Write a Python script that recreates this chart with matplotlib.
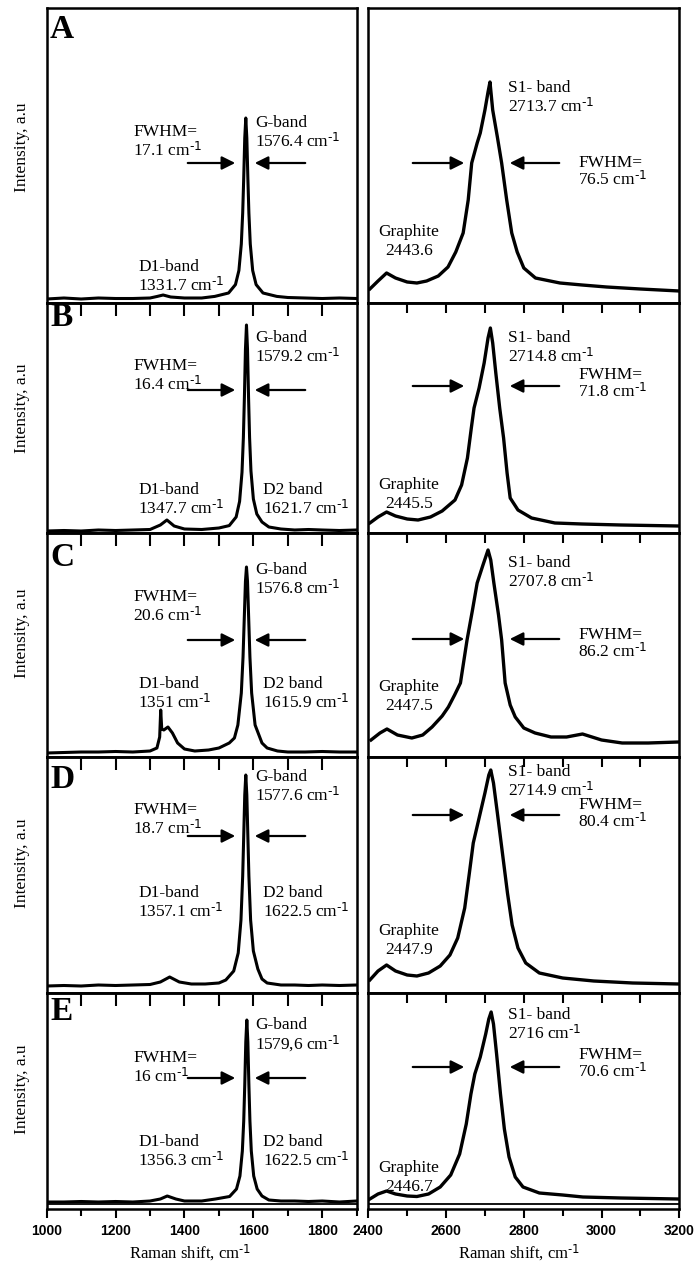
import matplotlib.pyplot as plt

plt.rcParams['font.family'] = ['Liberation Serif', 'DejaVu Serif']
plt.rcParams['mathtext.default'] = 'regular'

W, H = 696, 1262

# Raman shift (cm-1) / intensity (a.u.), G region (left)
a_g_x = [1000, 1050, 1100, 1150, 1200, 1250, 1300, 1320, 1338, 1360, 1400, 1450, 1488, 1528, 1548, 1558, 1565, 1569,
         1572, 1575, 1578, 1581, 1584, 1587, 1591, 1598, 1608, 1628, 1668, 1700, 1750, 1800, 1850, 1900]
a_g_y = [4, 5, 4, 5, 4.5, 4.5, 5, 6.5, 8, 6, 5, 5, 6.6, 10, 18.4, 32.5, 59, 90,
         125, 165, 185, 165, 125, 90, 59, 32.5, 18.4, 10, 6.6, 5.5, 5, 4.5, 5, 4.5]

b_g_x = [1000, 1050, 1100, 1150, 1200, 1250, 1300, 1330, 1349, 1370, 1400, 1450, 1500, 1530, 1550, 1560, 1567, 1571,
         1574, 1577, 1580, 1583, 1586, 1589, 1593, 1600, 1610, 1625, 1645, 1680, 1720, 1760, 1800, 1850, 1900]
b_g_y = [2, 2.5, 2, 3, 2.5, 3, 3.5, 8, 13, 7, 4, 3.5, 5, 7.4, 16, 31.6, 60.7, 95.5,
         136, 183.7, 208, 183.7, 136, 95.5, 62, 34, 19, 11, 6, 4, 3, 3.5, 3, 2.5, 3]

c_g_x = [1000, 1050, 1100, 1150, 1200, 1250, 1300, 1320, 1328, 1331, 1334, 1340, 1352, 1365, 1380, 1400, 1430, 1470,
         1500, 1530, 1545, 1555, 1565, 1570, 1574, 1577, 1580, 1583, 1586, 1590, 1595, 1605, 1615, 1625, 1640, 1670,
         1700, 1750, 1800, 1850, 1900]
c_g_y = [4, 4.5, 5, 5, 5.5, 5, 6, 9, 20, 47, 28, 27, 30, 24, 14, 8, 6, 7,
         9, 14, 19, 32, 64, 100, 143, 175.5, 190, 175.5, 143, 100, 64, 32, 23, 14, 9, 6,
         5, 5, 5.5, 5, 5]

d_g_x = [1000, 1050, 1100, 1150, 1200, 1250, 1300, 1330, 1357, 1385, 1420, 1460, 1500, 1520, 1543, 1556, 1564, 1569,
         1572, 1575, 1578, 1581, 1584, 1587, 1592, 1600, 1613, 1625, 1640, 1680, 1720, 1760, 1800, 1850, 1900]
d_g_y = [7, 7.5, 7, 8, 7.5, 8, 8.5, 11, 16, 11, 9, 9, 10, 13, 22, 40, 73, 117,
         157, 198, 218, 198, 157, 117, 73, 42, 24, 14, 10, 8, 8, 7.5, 8, 7.5, 8]

e_g_x = [1000, 1050, 1100, 1150, 1200, 1250, 1300, 1330, 1350, 1375, 1400, 1450, 1490, 1531, 1551, 1561, 1568, 1572,
         1575, 1578, 1581, 1584, 1587, 1590, 1594, 1601, 1611, 1625, 1645, 1680, 1720, 1760, 1800, 1850, 1900]
e_g_y = [7, 7, 7.5, 7, 7.5, 7, 8, 10, 13, 10, 8, 8, 10, 12.5, 20, 33, 58, 88,
         124, 167, 189, 167, 124, 88, 58, 33, 20, 13, 9, 8, 8, 7.5, 8, 7, 8]

# S1 / second-order region (right)
a_s_x = [2404, 2425, 2447, 2470, 2500, 2525, 2550, 2580, 2605, 2625, 2644, 2657, 2666, 2680, 2688, 2700, 2708, 2713,
         2720, 2732, 2743, 2756, 2769, 2783, 2800, 2830, 2893, 2950, 3013, 3100, 3200]
a_s_y = [14, 22, 30, 25, 21, 20, 22, 27, 36, 51, 70, 103, 140, 160, 170, 193, 211, 221,
         193, 166, 140, 103, 70, 51, 35, 25, 20, 18, 16, 14, 12]

b_s_x = [2404, 2425, 2447, 2470, 2500, 2528, 2560, 2590, 2623, 2640, 2655, 2665, 2672, 2685, 2698, 2708, 2714, 2720,
         2728, 2738, 2748, 2757, 2765, 2785, 2820, 2880, 2950, 3050, 3200]
b_s_y = [10, 16, 21, 17, 14, 13, 16, 22, 33, 48, 75, 105, 125, 145, 170, 195, 205, 190,
         160, 125, 95, 60, 35, 23, 15, 10, 9, 8, 7]

c_s_x = [2407, 2430, 2448, 2475, 2512, 2540, 2564, 2590, 2606, 2622, 2637, 2654, 2668, 2680, 2695, 2708, 2715, 2723,
         2735, 2743, 2752, 2765, 2778, 2800, 2829, 2870, 2910, 2951, 3000, 3053, 3120, 3198]
c_s_y = [17, 24, 28, 22, 19, 22, 30, 41, 50, 62, 74, 117, 147, 174, 192, 207, 197, 174,
         142, 117, 74, 52, 40, 29, 24, 20, 20, 23, 17, 14, 14, 15]

d_s_x = [2404, 2425, 2447, 2470, 2500, 2525, 2555, 2585, 2610, 2630, 2648, 2660, 2670, 2685, 2700, 2710, 2715, 2722,
         2732, 2745, 2758, 2770, 2785, 2805, 2840, 2900, 2980, 3080, 3200]
d_s_y = [13, 22, 28, 22, 18, 17, 20, 27, 38, 55, 85, 120, 150, 175, 200, 218, 223, 210,
         180, 140, 100, 68, 45, 30, 20, 15, 12, 10, 9]

e_s_x = [2404, 2425, 2447, 2470, 2500, 2525, 2555, 2585, 2612, 2635, 2652, 2664, 2674, 2688, 2702, 2710, 2716, 2722,
         2730, 2740, 2750, 2762, 2778, 2798, 2840, 2900, 2952, 3050, 3198]
e_s_y = [10, 15, 18, 15, 13, 12.5, 15, 22, 34, 55, 85, 115, 135, 152, 175, 190, 197, 185,
         155, 115, 80, 52, 32, 22, 16, 14, 12, 11, 10]

g_x = [a_g_x, b_g_x, c_g_x, d_g_x, e_g_x]
g_y = [a_g_y, b_g_y, c_g_y, d_g_y, e_g_y]
s_x = [a_s_x, b_s_x, c_s_x, d_s_x, e_s_x]
s_y = [a_s_y, b_s_y, c_s_y, d_s_y, e_s_y]

letters = ['A', 'B', 'C', 'D', 'E']
g_band = ['1576.4', '1579.2', '1576.8', '1577.6', '1579,6']
g_fwhm = ['17.1', '16.4', '20.6', '18.7', '16']
d1_band = ['1331.7', '1347.7', '1351', '1357.1', '1356.3']
d2_band = [None, '1621.7', '1615.9', '1622.5', '1622.5']
s1_band = ['2713.7', '2714.8', '2707.8', '2714.9', '2716']
s1_fwhm = ['76.5', '71.8', '86.2', '80.4', '70.6']
graphite = ['2443.6', '2445.5', '2447.5', '2447.9', '2446.7']

# layout (pixels, top-down)
rows = [8, 303, 533, 757, 993, 1209]
left_x0, left_x1 = 46.7, 356.7
right_x0, right_x1 = 368.3, 679.3
# text rows: letter, fwhm, g-band, arrow, d-bands, s1, s-fwhm, s-arrow, graphite, intensity label
txt_y = [
    [30, 132, 123, 163, 267, 88, 163, 163, 232, 147],
    [318, 366, 338, 390, 490, 338, 375, 386, 485, 408],
    [557, 597, 570, 640, 684, 563, 635, 639, 687, 633],
    [780, 810, 777, 836, 893, 772, 805, 815, 931, 863],
    [1011, 1058, 1025, 1078, 1142, 1015, 1055, 1067, 1168, 1089],
]
CM = r' cm$^{\text{-1}}$'
FS = 12.5
LH = 19  # line height for 2nd line

fig = plt.figure(figsize=(W / 100, H / 100), dpi=100)


def fx(px):
    return px / W


def fy(py):
    return 1 - py / H


def txt(x, y, s, **kw):
    kw.setdefault('ha', 'left')
    kw.setdefault('va', 'center')
    kw.setdefault('fontsize', FS)
    fig.text(fx(x), fy(y), s, **kw)


def arrow(x0, x1, y):
    fig.add_artist(plt.matplotlib.patches.FancyArrowPatch(
        (fx(x0), fy(y)), (fx(x1), fy(y)), transform=fig.transFigure,
        arrowstyle='-|>', mutation_scale=20, lw=1.6, color='black'))


for i in range(5):
    top, bot = rows[i], rows[i + 1]
    h = bot - top
    for col in range(2):
        x0, x1 = (left_x0, left_x1) if col == 0 else (right_x0, right_x1)
        ax = fig.add_axes([fx(x0), fy(bot), (x1 - x0) / W, h / H])
        if col == 0:
            ax.plot(g_x[i], g_y[i], color='black', lw=2.2)
            ax.set_xlim(1000, 1900)
            major = [1000, 1200, 1400, 1600, 1800]
            minor = [1100, 1300, 1500, 1700, 1900]
            inner = [1100, 1200, 1300, 1400, 1500, 1600, 1700, 1800]
            tlen = 9.4
        else:
            ax.plot(s_x[i], s_y[i], color='black', lw=2.4)
            ax.set_xlim(2400, 3200)
            major = [2400, 2600, 2800, 3000, 3200]
            minor = [2500, 2700, 2900, 3100]
            inner = [2500, 2600, 2700, 2800, 2900, 3000, 3100]
            tlen = 7.2
        ax.set_ylim(0, h)
        ax.set_yticks([])
        for sp in ax.spines.values():
            sp.set_linewidth(1.8)
        if i > 0:
            sec = ax.secondary_xaxis('top')
            sec.set_xticks(inner)
            sec.tick_params(axis='x', direction='in', length=tlen, width=1.5, labeltop=False)
            sec.spines['top'].set_linewidth(1.8)
        if i == 4:
            ax.axhline(5, color='black', lw=1.3)
            ax.set_xticks(major)
            ax.set_xticks(minor, minor=True)
            ax.tick_params(axis='x', which='major', direction='out', length=6.5, width=1.5, pad=4)
            ax.tick_params(axis='x', which='minor', direction='out', length=5, width=1.5)
            for lab in ax.get_xticklabels():
                lab.set_fontfamily('Liberation Sans')
                lab.set_fontweight('bold')
                lab.set_fontsize(10)
        else:
            ax.set_xticks([])

    ly, fw, gy, ay, dy, s1y, sfy, say, gry, iy = txt_y[i]
    txt(50, ly, letters[i], fontsize=24, fontweight='bold')
    txt(22, iy, 'Intensity, a.u', rotation=90, ha='center')
    # G region
    txt(133, fw, 'FWHM=')
    txt(133, fw + LH, g_fwhm[i] + CM)
    txt(255, gy, 'G-band')
    txt(255, gy + LH, g_band[i] + CM)
    txt(138, dy, 'D1-band')
    txt(138, dy + LH, d1_band[i] + CM)
    if d2_band[i]:
        txt(263, dy, 'D2 band')
        txt(263, dy + LH, d2_band[i] + CM)
    arrow(185, 238, ay)
    arrow(308, 252, ay)
    # S1 region
    txt(508, s1y, 'S1- band')
    txt(508, s1y + LH, s1_band[i] + CM)
    txt(578, sfy, 'FWHM=')
    txt(578, sfy + LH - 2, s1_fwhm[i] + CM)
    txt(409, gry, 'Graphite', ha='center')
    txt(409, gry + LH, graphite[i], ha='center')
    arrow(410, 467, say)
    arrow(562, 507, say)

txt(190, 1253, r'Raman shift, cm$^{\text{-1}}$', ha='center', fontsize=12)
txt(519, 1253, r'Raman shift, cm$^{\text{-1}}$', ha='center', fontsize=12)

fig.savefig('out.png', dpi=100)
